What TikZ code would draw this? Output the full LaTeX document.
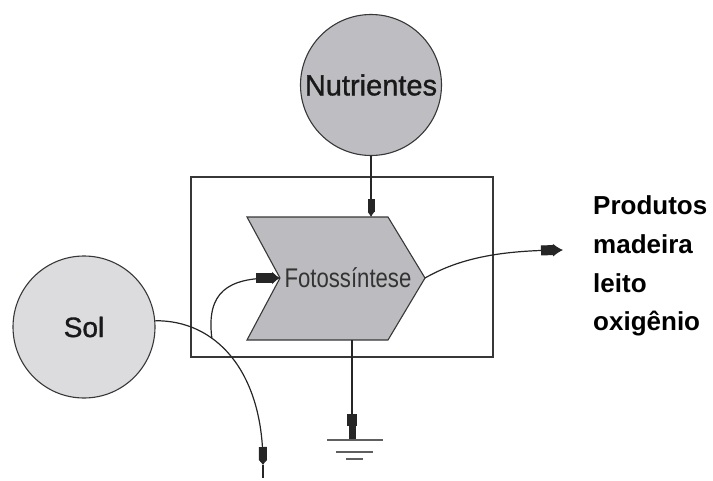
\documentclass[tikz,border=0pt]{standalone}
\usepackage{fontspec}
\setmainfont{Liberation Sans}
\newfontfamily\narrowfont[FakeStretch=0.82]{Liberation Sans}
\newfontfamily\heavyfont[FakeBold=1.2]{Liberation Sans}
\usetikzlibrary{arrows.meta}
\definecolor{nutgray}{RGB}{190,190,194}
\definecolor{solgray}{RGB}{220,220,222}
\definecolor{chevgray}{RGB}{188,188,192}
\definecolor{edge}{RGB}{55,55,55}
\begin{document}
\begin{tikzpicture}[x=1pt,y=-1pt,
  ball/.style={circle,draw=edge,line width=1.1pt,inner sep=0pt},
  conn/.style={draw=black!85,line width=1.2pt},
  prod/.style={anchor=base west,inner sep=0pt,font=\fontsize{26}{30}\selectfont\bfseries}]
\useasboundingbox (0,0) rectangle (713,480);
% frame
\draw[edge,line width=1.5pt] (191,177) rectangle (493,357);
% circles
\node[ball,fill=nutgray,minimum size=141pt,font=\heavyfont\fontsize{29}{33}\selectfont,text=black!90] (nut) at (371,85) {Nutrientes};
\node[ball,fill=solgray,minimum size=142pt,font=\heavyfont\fontsize{28}{32}\selectfont,text=black!90] (sol) at (84,327) {Sol\hspace{14pt}};
% chevron
\coordinate (ctop) at (371,217);
\coordinate (ctip) at (425,278);
\coordinate (cnotch) at (280,278);
\coordinate (cbot) at (352,340);
\draw[edge,line width=1.1pt,fill=chevgray] (247,217) -- (388,217) -- (ctip) -- (388,340) -- (247,340) -- (cnotch) -- cycle;
\node[font=\narrowfont\fontsize{27}{30}\selectfont,text=black!80] (foto) at (348,278) {Fotossíntese};
% connectors
\draw[conn,-{Rectangle[length=13pt,width=7pt]Latex[length=5pt,width=7pt]}] (nut.south) -- (ctop);
\coordinate (sa) at (263,465);
\coordinate (solend) at (263,478);
\draw[conn,-{Rectangle[length=13pt,width=8pt]Latex[length=5pt,width=9pt]}] (sol.5) .. controls (215,320) and (262,370) .. coordinate[pos=0.35] (br) (sa);
\draw[conn] (sa) -- (solend);
\draw[conn,-{Rectangle[length=16pt,width=10pt]Latex[length=8pt,width=13pt]}] (br) .. controls (206,292) and (228,278) .. (cnotch);
\coordinate (oend) at (563,250);
\draw[conn,-{Rectangle[length=12pt,width=10pt]Latex[length=10pt,width=13pt]}] (ctip) .. controls (460,258) and (500,251) .. (oend);
\coordinate (gnd) at (352,440);
\draw[conn,-{Rectangle[length=12pt,width=10pt]Rectangle[length=14pt,width=7pt]}] (cbot) -- (gnd);
\draw[edge!80,line width=2pt] (327,440) -- (383,440);
\draw[edge!80,line width=2pt] (336,452) -- (373,452);
\draw[edge!80,line width=2pt] (346,459) -- (363,459);
% products
\node[prod] (p1) at (593,214) {Produtos};
\node[prod] (p2) at (593,253) {madeira};
\node[prod] (p3) at (593,292) {leito};
\node[prod] (p4) at (593,330) {oxigênio};
\end{tikzpicture}
\end{document}
